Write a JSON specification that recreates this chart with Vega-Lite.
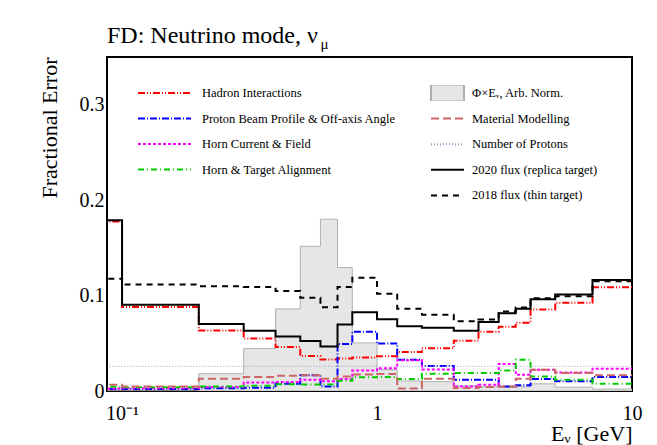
{
  "$schema": "https://vega.github.io/schema/vega-lite/v6.json",
  "width": 525,
  "height": 334,
  "autosize": {"type": "none"},
  "padding": {"left": 107, "top": 57, "right": 25, "bottom": 54},
  "background": "white",
  "config": {
    "view": {"stroke": "black", "strokeWidth": 2},
    "font": "Liberation Serif",
    "axis": {"grid": false, "domain": false, "minExtent": 0, "tickColor": "black", "tickWidth": 1.5, "labelColor": "black", "titleColor": "black", "labelFont": "Liberation Serif", "titleFont": "Liberation Serif", "titleFontWeight": "normal"}
  },
  "title": {"text": "FD: Neutrino mode, ν", "anchor": "start", "frame": "group", "offset": 13, "dy": 43, "baseline": "alphabetic", "font": "Liberation Serif", "fontSize": 24, "fontWeight": "normal", "color": "black"},
  "datasets": {
    "h": [
      {"E": 0.08, "had": 0.1775, "pro": 0.002, "horn": 0.0025, "align": 0.0045, "mat": 0.0066, "pot": 0.0258, "f20": 0.179, "f18": 0.1175, "flux": 0},
      {"E": 0.1, "had": 0.0881, "pro": 0.0021, "horn": 0.003, "align": 0.004, "mat": 0.0048, "pot": 0.0258, "f20": 0.0905, "f18": 0.1115, "flux": 0},
      {"E": 0.2, "had": 0.0633, "pro": 0.003, "horn": 0.0042, "align": 0.0048, "mat": 0.0129, "pot": 0.0258, "f20": 0.0703, "f18": 0.1098, "flux": 0.0181},
      {"E": 0.3, "had": 0.0549, "pro": 0.0035, "horn": 0.0088, "align": 0.0055, "mat": 0.0147, "pot": 0.0258, "f20": 0.0632, "f18": 0.109, "flux": 0.0444},
      {"E": 0.4, "had": 0.046, "pro": 0.0075, "horn": 0.0094, "align": 0.0072, "mat": 0.016, "pot": 0.0258, "f20": 0.057, "f18": 0.1049, "flux": 0.086},
      {"E": 0.5, "had": 0.0368, "pro": 0.0164, "horn": 0.0118, "align": 0.0068, "mat": 0.0165, "pot": 0.0258, "f20": 0.0525, "f18": 0.0976, "flux": 0.1516},
      {"E": 0.6, "had": 0.0329, "pro": 0.0048, "horn": 0.0102, "align": 0.0069, "mat": 0.0129, "pot": 0.0258, "f20": 0.0466, "f18": 0.0878, "flux": 0.18},
      {"E": 0.7, "had": 0.0341, "pro": 0.0493, "horn": 0.0125, "align": 0.0108, "mat": 0.0153, "pot": 0.0258, "f20": 0.0698, "f18": 0.109, "flux": 0.1293},
      {"E": 0.8, "had": 0.0352, "pro": 0.062, "horn": 0.0215, "align": 0.0145, "mat": 0.0172, "pot": 0.0258, "f20": 0.0825, "f18": 0.1188, "flux": 0.0504},
      {"E": 1.0, "had": 0.0365, "pro": 0.0497, "horn": 0.0239, "align": 0.0147, "mat": 0.0178, "pot": 0.0258, "f20": 0.0751, "f18": 0.102, "flux": 0.0224},
      {"E": 1.2, "had": 0.0408, "pro": 0.0327, "horn": 0.0321, "align": 0.0126, "mat": 0.0025, "pot": 0.0258, "f20": 0.0678, "f18": 0.0863, "flux": 0.0105},
      {"E": 1.5, "had": 0.0447, "pro": 0.0262, "horn": 0.0225, "align": 0.0181, "mat": 0.0128, "pot": 0.0258, "f20": 0.0664, "f18": 0.08, "flux": 0.0098},
      {"E": 2.0, "had": 0.0527, "pro": 0.0118, "horn": 0.0048, "align": 0.0189, "mat": 0.0032, "pot": 0.0258, "f20": 0.0632, "f18": 0.073, "flux": 0.0055},
      {"E": 2.5, "had": 0.0622, "pro": 0.0118, "horn": 0.0066, "align": 0.0189, "mat": 0.0042, "pot": 0.0258, "f20": 0.0724, "f18": 0.0748, "flux": 0.0045},
      {"E": 3.0, "had": 0.0674, "pro": 0.0048, "horn": 0.0282, "align": 0.0216, "mat": 0.0048, "pot": 0.0258, "f20": 0.0814, "f18": 0.0832, "flux": 0.004},
      {"E": 3.5, "had": 0.0716, "pro": 0.0059, "horn": 0.0171, "align": 0.0328, "mat": 0.0129, "pot": 0.0258, "f20": 0.0863, "f18": 0.0874, "flux": 0.0045},
      {"E": 4.0, "had": 0.0853, "pro": 0.0126, "horn": 0.0223, "align": 0.0153, "mat": 0.0223, "pot": 0.0258, "f20": 0.0961, "f18": 0.0971, "flux": 0.0075},
      {"E": 5.0, "had": 0.0926, "pro": 0.0101, "horn": 0.0195, "align": 0.0118, "mat": 0.0189, "pot": 0.0258, "f20": 0.101, "f18": 0.0992, "flux": 0.004},
      {"E": 7.0, "had": 0.1087, "pro": 0.0147, "horn": 0.0234, "align": 0.0077, "mat": 0.0164, "pot": 0.0258, "f20": 0.1164, "f18": 0.115, "flux": 0.002},
      {"E": 10.0, "had": 0.1087, "pro": 0.0147, "horn": 0.0234, "align": 0.0077, "mat": 0.0164, "pot": 0.0258, "f20": 0.1164, "f18": 0.115, "flux": 0.002}
    ]
  },
  "data": {"name": "h"},
  "layer": [
    {
      "mark": {"type": "area", "interpolate": "step-after", "fill": "#e6e6e6", "stroke": "#b0b0b0", "strokeWidth": 1, "clip": true},
      "encoding": {
        "x": {"field": "E", "type": "quantitative", "scale": {"type": "log", "domain": [0.0873, 10], "nice": false},
          "axis": {"orient": "bottom", "values": [0.1,0.2,0.3,0.4,0.5,0.6,0.7,0.8,0.9,1,2,3,4,5,6,7,8,9,10], "tickSize": 0, "labelPadding": 12, "labelFontSize": 20, "labelOverlap": false, "labelFlush": false, "labelBound": false,
            "labelExpr": "datum.value == 0.1 ? '10⁻¹' : datum.value == 1 ? '1' : datum.value == 10 ? '10' : ''",
            "title": "Eᵥ [GeV]", "titleFontSize": 22, "titleX": 525, "titleY": 49, "titleAlign": "right", "titleBaseline": "alphabetic", "titleAnchor": "end",
            "encode": {"ticks": {"update": {"y2": {"signal": "(datum.value == 0.1 || datum.value == 1 || datum.value == 10) ? -10 : -5"}}}}}},
        "y": {"field": "flux", "type": "quantitative", "scale": {"domain": [0, 0.35], "nice": false},
          "axis": {"orient": "left", "values": [0,0.02,0.04,0.06,0.08,0.1,0.12,0.14,0.16,0.18,0.2,0.22,0.24,0.26,0.28,0.3,0.32,0.34], "tickSize": 0, "labelPadding": 3, "labelFontSize": 20, "labelOverlap": false, "labelFlush": false, "labelBound": false,
            "labelExpr": "datum.value == 0 ? '0' : (datum.value == 0.1 || datum.value == 0.2 || datum.value == 0.3) ? format(datum.value, '.1f') : ''",
            "title": "Fractional Error", "titleFontSize": 22, "titleAngle": -90, "titleX": -51, "titleY": 0, "titleAlign": "right", "titleBaseline": "alphabetic", "titleAnchor": "end",
            "encode": {"ticks": {"update": {"x2": {"signal": "(datum.value == 0 || datum.value == 0.1 || datum.value == 0.2 || datum.value == 0.3) ? 15.5 : 8"}}}}}}
      }
    },
    {
      "transform": [{"fold": ["had", "pro", "horn", "align"], "as": ["s", "v"]}],
      "mark": {"type": "line", "interpolate": "step-after", "strokeWidth": 2, "clip": true},
      "encoding": {
        "x": {"field": "E", "type": "quantitative",
          "axis": {"orient": "top", "values": [0.1,0.2,0.3,0.4,0.5,0.6,0.7,0.8,0.9,1,2,3,4,5,6,7,8,9,10], "labels": false, "tickSize": 0, "title": null,
            "encode": {"ticks": {"update": {"y2": {"signal": "(datum.value == 0.1 || datum.value == 1 || datum.value == 10) ? 10 : 5"}}}}}},
        "y": {"field": "v", "type": "quantitative",
          "axis": {"orient": "right", "values": [0,0.02,0.04,0.06,0.08,0.1,0.12,0.14,0.16,0.18,0.2,0.22,0.24,0.26,0.28,0.3,0.32,0.34], "labels": false, "tickSize": 0, "title": null,
            "encode": {"ticks": {"update": {"x2": {"signal": "(datum.value == 0 || datum.value == 0.1 || datum.value == 0.2 || datum.value == 0.3) ? -15.5 : -8"}}}}}},
        "color": {"field": "s", "type": "nominal",
          "scale": {"domain": ["had", "pro", "horn", "align"], "range": ["#ff0000", "#0000ff", "#ff00ff", "#00cc00"]},
          "legend": {"orient": "none", "legendX": 30, "legendY": 28, "title": null, "padding": 0, "symbolType": "stroke", "symbolSize": 2809, "symbolStrokeWidth": 2, "clipHeight": 16, "rowPadding": 9.5, "labelOffset": 10, "labelFont": "Liberation Serif", "labelFontSize": 12.5, "labelColor": "black", "labelLimit": 400,
            "labelExpr": "datum.value == 'had' ? 'Hadron Interactions' : datum.value == 'pro' ? 'Proton Beam Profile & Off-axis Angle' : datum.value == 'horn' ? 'Horn Current & Field' : 'Horn & Target Alignment'"}},
        "strokeDash": {"field": "s", "type": "nominal",
          "scale": {"domain": ["had", "pro", "horn", "align"], "range": [[7,2,1,2,1,2], [7,2,1,2], [3,2], [6,3,1,3]]},
          "legend": {"orient": "none", "legendX": 30, "legendY": 28, "title": null, "padding": 0, "symbolType": "stroke", "symbolSize": 2809, "symbolStrokeWidth": 2, "clipHeight": 16, "rowPadding": 9.5, "labelOffset": 10, "labelFont": "Liberation Serif", "labelFontSize": 12.5, "labelColor": "black", "labelLimit": 400,
            "labelExpr": "datum.value == 'had' ? 'Hadron Interactions' : datum.value == 'pro' ? 'Proton Beam Profile & Off-axis Angle' : datum.value == 'horn' ? 'Horn Current & Field' : 'Horn & Target Alignment'"}}
      }
    },
    {
      "transform": [{"fold": ["mat", "pot", "f20", "f18"], "as": ["s", "v"]}],
      "mark": {"type": "line", "interpolate": "step-after", "clip": true},
      "encoding": {
        "x": {"field": "E", "type": "quantitative", "axis": null},
        "y": {"field": "v", "type": "quantitative", "axis": null},
        "strokeWidth": {"condition": {"test": "datum.s === 'pot'", "value": 1}, "value": 2},
        "color": {"field": "s", "type": "nominal",
          "scale": {"domain": ["flux", "mat", "pot", "f20", "f18"], "range": ["#b0b0b0", "#cc6666", "#9999cc", "#000000", "#000000"]},
          "legend": {"orient": "none", "legendX": 323, "legendY": 28, "title": null, "padding": 0, "symbolType": "stroke", "symbolSize": 1089, "symbolStrokeWidth": 2, "clipHeight": 16, "rowPadding": 9.6, "labelOffset": 7, "labelFont": "Liberation Serif", "labelFontSize": 12.5, "labelColor": "black", "labelLimit": 400,
            "labelExpr": "datum.value == 'flux' ? 'Φ×Eᵥ, Arb. Norm.' : datum.value == 'mat' ? 'Material Modelling' : datum.value == 'pot' ? 'Number of Protons' : datum.value == 'f20' ? '2020 flux (replica target)' : '2018 flux (thin target)'",
            "encode": {"symbols": {"update": {
              "shape": {"signal": "datum.value == 'flux' ? 'M-1,-0.52H1V0.52H-1Z' : 'stroke'"},
              "fill": {"signal": "datum.value == 'flux' ? '#e6e6e6' : 'transparent'"}}}}}},
        "strokeDash": {"field": "s", "type": "nominal",
          "scale": {"domain": ["flux", "mat", "pot", "f20", "f18"], "range": [[1,0], [8,4], [1,2], [1,0], [6,5]]},
          "legend": {"orient": "none", "legendX": 323, "legendY": 28, "title": null, "padding": 0, "symbolType": "stroke", "symbolSize": 1089, "symbolStrokeWidth": 2, "clipHeight": 16, "rowPadding": 9.6, "labelOffset": 7, "labelFont": "Liberation Serif", "labelFontSize": 12.5, "labelColor": "black", "labelLimit": 400,
            "labelExpr": "datum.value == 'flux' ? 'Φ×Eᵥ, Arb. Norm.' : datum.value == 'mat' ? 'Material Modelling' : datum.value == 'pot' ? 'Number of Protons' : datum.value == 'f20' ? '2020 flux (replica target)' : '2018 flux (thin target)'",
            "encode": {"symbols": {"update": {
              "shape": {"signal": "datum.value == 'flux' ? 'M-1,-0.52H1V0.52H-1Z' : 'stroke'"},
              "fill": {"signal": "datum.value == 'flux' ? '#e6e6e6' : 'transparent'"}}}}}}
      }
    },
    {
      "data": {"values": [{"t": "μ"}]},
      "mark": {"type": "text", "align": "left", "baseline": "alphabetic", "font": "Liberation Serif", "fontSize": 15, "color": "black", "clip": false},
      "encoding": {
        "x": {"datum": 0.6004, "type": "quantitative", "axis": null},
        "y": {"datum": 0.358, "type": "quantitative", "axis": null},
        "text": {"field": "t"}
      }
    }
  ],
  "resolve": {"scale": {"color": "independent", "strokeDash": "independent"}, "axis": {"x": "independent", "y": "independent"}}
}
